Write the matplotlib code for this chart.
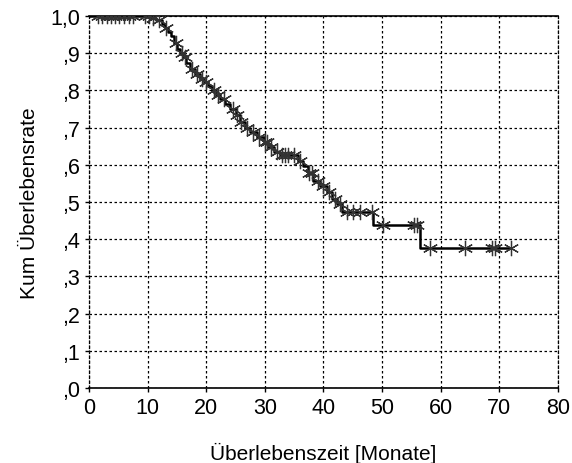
import numpy as np
import matplotlib.pyplot as plt

plt.rcParams['font.family'] = ['Liberation Sans', 'DejaVu Sans']

# Kaplan-Meier steps (month, survival after event)
event_t = [0, 10.5, 11.5, 12.4, 13.0, 13.5, 14.0, 14.5, 15.0, 15.5, 16.0, 16.5,
           17.2, 18.0, 18.9, 19.6, 20.3, 21.0, 21.7, 22.4, 23.2, 24.1, 25.0,
           25.8, 26.6, 27.5, 28.6, 29.8, 30.6, 31.5, 32.5, 35.7, 36.5, 37.3,
           38.2, 39.4, 40.6, 41.4, 42.3, 43.1, 48.5, 56.5]
event_s = [1.0, 0.995, 0.99, 0.978, 0.968, 0.957, 0.945, 0.928, 0.911, 0.9,
           0.889, 0.873, 0.857, 0.843, 0.83, 0.822, 0.813, 0.8, 0.788, 0.776,
           0.763, 0.75, 0.733, 0.715, 0.70, 0.688, 0.674, 0.66, 0.647, 0.634,
           0.625, 0.61, 0.597, 0.577, 0.557, 0.542, 0.527, 0.508, 0.495, 0.473,
           0.437, 0.376]
t_end = 72.0

# censored observations (months)
censor_t = [1.5, 2.2, 3.0, 3.8, 4.5, 5.2, 6.0, 6.8, 7.5, 9.5, 10.2, 11.0, 12.0,
            13.2, 14.8, 15.8, 16.3, 17.5, 18.5, 19.3, 20.0, 21.3, 22.0, 23.0,
            24.5, 25.3, 26.0, 27.0, 28.0, 29.0, 30.0, 30.3, 31.0, 32.0, 33.0,
            33.5, 34.0, 35.0, 36.0, 37.5, 38.0, 39.0, 40.0, 41.0, 42.0, 42.8,
            44.0, 45.1, 46.2, 48.2, 50.2, 55.4, 56.0, 58.2, 64.2, 68.8, 69.2, 72.0]

xticks = [0, 10, 20, 30, 40, 50, 60, 70, 80]
yticks = [0.0, 0.1, 0.2, 0.3, 0.4, 0.5, 0.6, 0.7, 0.8, 0.9, 1.0]
ylabels = [',0', ',1', ',2', ',3', ',4', ',5', ',6', ',7', ',8', ',9', '1,0']

fig = plt.figure(figsize=(5.72, 4.64), dpi=100)
ax = fig.add_axes([0.1556, 0.1616, 0.8199, 0.8018])

xs = event_t + [t_end]
ys = event_s + [event_s[-1]]
ax.step(xs, ys, where='post', color='black', lw=1.8, zorder=3)

idx = np.searchsorted(event_t, censor_t, side='right') - 1
cs = np.array(event_s)[idx]
ax.plot(censor_t, cs, ls='none', marker=(6, 2, 0), ms=11, mew=0.9,
        color='#333333', zorder=4)

ax.set_xlim(0, 80)
ax.set_ylim(0, 1.0)
ax.set_xticks(xticks)
ax.set_yticks(yticks)
ax.set_yticklabels(ylabels)
ax.tick_params(labelsize=15.5, direction='out', length=3, width=1, colors='black')
ax.grid(True, color='black', ls=(0, (2, 2)), lw=0.9)

for s in ['left', 'right']:
    ax.spines[s].set_linestyle((0, (2, 2)))
    ax.spines[s].set_linewidth(0.9)
ax.spines['top'].set_linewidth(1.2)
ax.spines['bottom'].set_linewidth(1.2)

ax.set_xlabel('Überlebenszeit [Monate]', fontsize=15, labelpad=17)
ax.set_ylabel('Kum Überlebensrate', fontsize=15, labelpad=8)

fig.savefig('out.png', dpi=100)
